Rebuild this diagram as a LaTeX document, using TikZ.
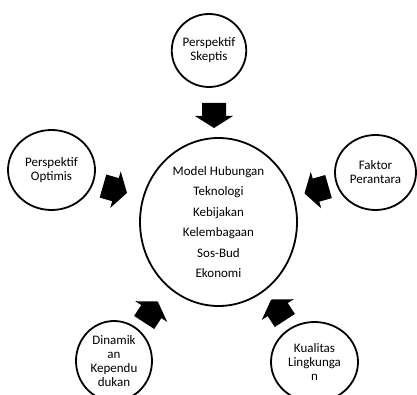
\documentclass[tikz,border=0pt]{standalone}
\usepackage{fontspec}
\setmainfont{Carlito}
\usetikzlibrary{shapes.geometric,positioning,calc}

\tikzset{
  faktor/.style={draw,ellipse,line width=1.8pt,inner sep=0pt,align=center,
    font=\fontsize{13}{14}\selectfont},
  panah/.pic={\fill (-12.5,-12) -- (0.5,-12) -- (0.5,-19) -- (12.5,0)
    -- (0.5,19) -- (0.5,12) -- (-12.5,12) -- cycle;}
}

\begin{document}
\begin{tikzpicture}[x=1pt,y=1pt]
  \useasboundingbox (0,0) rectangle (417,395);
  \clip (0,0) rectangle (417,395);
  % lingkaran tengah
  \node[faktor,minimum width=157,minimum height=168,
    font=\fontsize{13}{20.5}\selectfont] (model) at (218.5,173)
    {Model Hubungan\\Teknologi\\Kebijakan\\Kelembagaan\\Sos-Bud\\Ekonomi};
  % lingkaran luar
  \node[faktor,minimum width=74,minimum height=73] (skeptis) at (209,344.5)
    {Perspektif\\Skeptis};
  \node[faktor,minimum width=87,minimum height=80] (optimis) at (51.5,225)
    {Perspektif\\Optimis};
  \node[faktor,minimum width=81,minimum height=75] (antara) at (375.5,222.5)
    {Faktor\\Perantara};
  \node[faktor,minimum width=76,minimum height=80] (duduk) at (114,34)
    {Dinamik\\an\\Kependu\\dukan};
  \node[faktor,minimum width=87,minimum height=80] (lingkungan) at (314.5,33)
    {Kualitas\\Lingkunga\\n};
  % panah blok
  \pic[rotate=-90] (pSkeptis) at (214,279.5) {panah};
  \pic[rotate=-16] (pOptimis) at (115,205.5) {panah};
  \pic[rotate=196] (pAntara) at (316.5,205) {panah};
  \pic[rotate=57] (pDuduk) at (151,83) {panah};
  \pic[rotate=123] (pLingkungan) at (278,85) {panah};
\end{tikzpicture}
\end{document}
